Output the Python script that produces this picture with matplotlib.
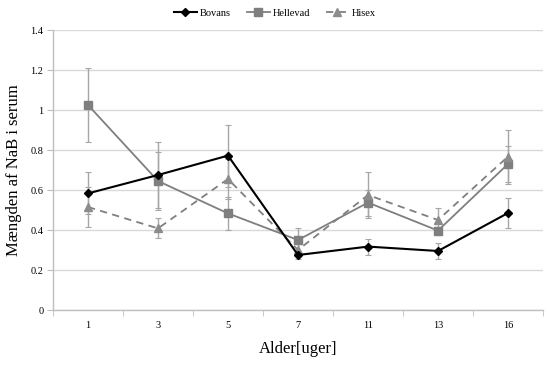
import matplotlib
matplotlib.use("Agg")
import matplotlib.pyplot as plt
import numpy as np

categories = ["1", "3", "5", "7", "11", "13", "16"]
bovans = [0.583, 0.675, 0.772, 0.275, 0.317, 0.295, 0.485]
bovans_err = [0.105, 0.165, 0.155, 0.02, 0.04, 0.04, 0.075]
hellevad = [1.025, 0.645, 0.483, 0.35, 0.537, 0.397, 0.73]
hellevad_err = [0.185, 0.145, 0.083, 0.06, 0.065, 0.02, 0.09]
hisex = [0.515, 0.408, 0.655, 0.30, 0.575, 0.45, 0.767]
hisex_err = [0.10, 0.05, 0.10, 0.03, 0.115, 0.058, 0.135]

plt.rcParams['font.family'] = ['Liberation Serif', 'DejaVu Serif']

fig = plt.figure(figsize=(5.5, 3.67), dpi=100)
ax = fig.add_axes([53/550, 1-310/367, 490/550, 280/367])

x = np.arange(len(categories))
ecol = '#a6a6a6'
ax.errorbar(x, hellevad, yerr=hellevad_err, fmt='none', ecolor=ecol, elinewidth=1, capsize=2, capthick=0.8, zorder=2)
ax.errorbar(x, hisex, yerr=hisex_err, fmt='none', ecolor=ecol, elinewidth=1, capsize=2, capthick=0.8, zorder=2)
ax.errorbar(x, bovans, yerr=bovans_err, fmt='none', ecolor=ecol, elinewidth=1, capsize=2, capthick=0.8, zorder=2)

ax.plot(x, hellevad, color='#7f7f7f', lw=1.3, marker='s', ms=6, mfc='#7f7f7f', mec='#7f7f7f', label='Hellevad', zorder=3)
ax.plot(x, hisex, color='#7f7f7f', lw=1.3, ls=(0, (4, 3)), marker='^', ms=6, mfc='#8c8c8c', mec='#8c8c8c', label='Hisex', zorder=3)
ax.plot(x, bovans, color='black', lw=1.5, marker='D', ms=4.5, mfc='black', mec='black', label='Bovans', zorder=4)

ax.set_xlim(-0.5, len(categories) - 0.5)
ax.set_ylim(0, 1.4)
ax.set_yticks(np.arange(0, 1.41, 0.2))
ax.set_yticklabels(['0', '0.2', '0.4', '0.6', '0.8', '1', '1.2', '1.4'])
ax.set_xticks(x)
ax.set_xticklabels(categories)
ax.set_xticks(np.arange(-0.5, len(categories), 1), minor=True)
ax.tick_params(axis='x', which='major', length=0, labelsize=7.5, pad=8)
ax.tick_params(axis='x', which='minor', length=4, color='#bfbfbf', direction='out')
ax.tick_params(axis='y', length=4, color='#bfbfbf', labelsize=7.5, pad=3)

ax.grid(axis='y', color='#d9d9d9', lw=1)
ax.set_axisbelow(True)
for s in ['top', 'right']:
    ax.spines[s].set_visible(False)
for s in ['left', 'bottom']:
    ax.spines[s].set_color('#bfbfbf')
    ax.spines[s].set_linewidth(1)

ax.set_xlabel('Alder[uger]', fontsize=12, labelpad=8)
ax.set_ylabel('Mængden af NaB i serum', fontsize=12, labelpad=6)

h, l = ax.get_legend_handles_labels()
order = [2, 0, 1]
fig.legend([h[i] for i in order], [l[i] for i in order], loc='center', bbox_to_anchor=(0.5, 1-13/367),
           ncol=3, frameon=False, fontsize=7.5, handlelength=2.2, columnspacing=1.5, handletextpad=0.3)

fig.savefig('out.png', dpi=100)
